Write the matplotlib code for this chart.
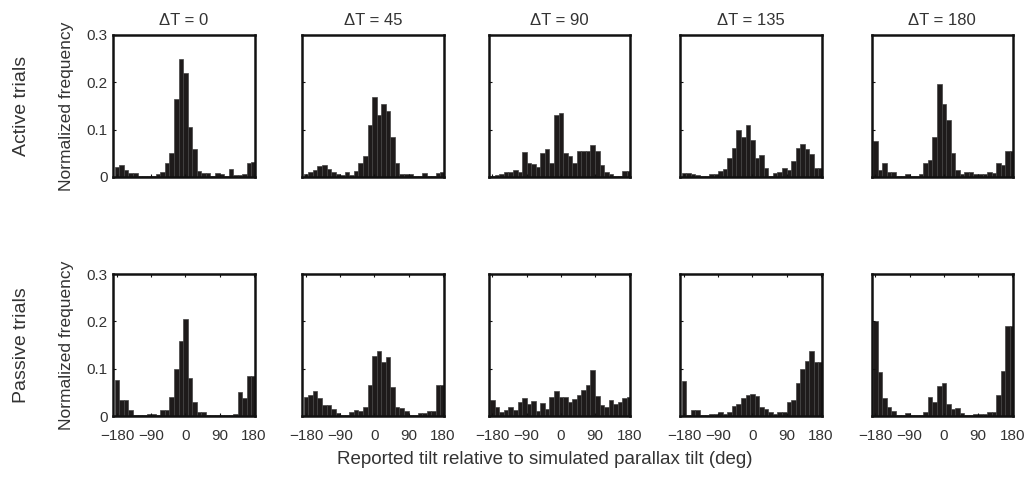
import numpy as np
import matplotlib
matplotlib.use('Agg')
import matplotlib.pyplot as plt

plt.rcParams['font.family'] = ['Liberation Sans', 'DejaVu Sans']

# 12 deg bins centred on -180 ... 180
bin_centers = np.arange(-180, 181, 12)
titles = ['\u0394T = 0', '\u0394T = 45', '\u0394T = 90', '\u0394T = 135', '\u0394T = 180']
row_names = ['Active trials', 'Passive trials']
xticks = [-180, -90, 0, 90, 180]
xtick_labels = ['\u2212180', '\u221290', '0', '90', '180']
yticks = [0, 0.1, 0.2, 0.3]
ytick_labels = ['0', '0.1', '0.2', '0.3']

# active trials
act_0 = [0.022, 0.025, 0.014, 0.009, 0.008, 0.003, 0.003, 0.003, 0.003, 0.006, 0.01,
         0.03, 0.05, 0.165, 0.25, 0.22, 0.105, 0.06, 0.012, 0.008, 0.008, 0.003,
         0.008, 0.006, 0.003, 0.016, 0.005, 0.005, 0.006, 0.03, 0.032]
act_45 = [0.006, 0.01, 0.015, 0.023, 0.025, 0.016, 0.01, 0.007, 0.005, 0.01, 0.004,
          0.012, 0.03, 0.045, 0.11, 0.168, 0.13, 0.155, 0.14, 0.085, 0.03, 0.006,
          0.006, 0.006, 0.003, 0.003, 0.008, 0.003, 0.003, 0.008, 0.01]
act_90 = [0.003, 0.004, 0.007, 0.01, 0.01, 0.015, 0.01, 0.052, 0.03, 0.028, 0.022,
          0.05, 0.06, 0.03, 0.132, 0.135, 0.05, 0.045, 0.03, 0.055, 0.055, 0.055,
          0.068, 0.055, 0.025, 0.01, 0.006, 0.003, 0.003, 0.012, 0.012]
act_135 = [0.009, 0.008, 0.006, 0.004, 0.003, 0.003, 0.006, 0.006, 0.012, 0.017, 0.04,
           0.062, 0.1, 0.085, 0.11, 0.078, 0.04, 0.046, 0.018, 0.003, 0.008, 0.01,
           0.02, 0.015, 0.034, 0.062, 0.07, 0.06, 0.048, 0.02, 0.02]
act_180 = [0.077, 0.015, 0.03, 0.01, 0.01, 0.003, 0.003, 0.006, 0.003, 0.003, 0.006,
           0.03, 0.035, 0.085, 0.197, 0.155, 0.12, 0.05, 0.015, 0.006, 0.01, 0.01,
           0.006, 0.006, 0.006, 0.01, 0.008, 0.03, 0.025, 0.055, 0.055]

# passive trials
pas_0 = [0.077, 0.034, 0.034, 0.013, 0.002, 0.002, 0.002, 0.005, 0.005, 0.002, 0.013,
         0.013, 0.04, 0.1, 0.158, 0.205, 0.08, 0.03, 0.008, 0.008, 0.002, 0.002,
         0.002, 0.002, 0.002, 0.002, 0.005, 0.05, 0.038, 0.085, 0.085]
pas_45 = [0.04, 0.045, 0.053, 0.038, 0.024, 0.024, 0.015, 0.007, 0.003, 0.003, 0.008,
          0.013, 0.01, 0.02, 0.065, 0.126, 0.138, 0.115, 0.124, 0.062, 0.02, 0.016,
          0.01, 0.003, 0.003, 0.007, 0.007, 0.01, 0.01, 0.065, 0.065]
pas_90 = [0.034, 0.02, 0.008, 0.012, 0.02, 0.012, 0.03, 0.038, 0.025, 0.032, 0.01,
          0.028, 0.015, 0.04, 0.052, 0.04, 0.04, 0.03, 0.035, 0.045, 0.055, 0.065,
          0.097, 0.042, 0.023, 0.02, 0.033, 0.025, 0.03, 0.038, 0.04]
pas_135 = [0.075, 0.003, 0.012, 0.012, 0.003, 0.003, 0.005, 0.004, 0.008, 0.004, 0.008,
           0.022, 0.025, 0.038, 0.045, 0.047, 0.043, 0.02, 0.014, 0.008, 0.005, 0.008,
           0.008, 0.03, 0.033, 0.07, 0.1, 0.117, 0.138, 0.115, 0.115]
pas_180 = [0.2, 0.093, 0.037, 0.02, 0.01, 0.003, 0.003, 0.007, 0.003, 0.003, 0.003,
           0.008, 0.04, 0.03, 0.063, 0.07, 0.025, 0.015, 0.017, 0.006, 0.003, 0.003,
           0.005, 0.005, 0.005, 0.008, 0.008, 0.045, 0.095, 0.19, 0.19]

rows = [[act_0, act_45, act_90, act_135, act_180],
        [pas_0, pas_45, pas_90, pas_135, pas_180]]

W, H = 1032, 479
fig = plt.figure(figsize=(W / 100, H / 100), dpi=100)

col_left = [113, 302, 488.5, 680, 871.5]
pw = 141.5
row_top = [35, 274]
ph = 142
txt = '#333333'

for r in range(2):
    for c in range(5):
        x0 = col_left[c]
        y0 = row_top[r]
        ax = fig.add_axes([x0 / W, 1 - (y0 + ph) / H, pw / W, ph / H])
        ax.bar(bin_centers, rows[r][c], width=12, color='#1e1b1b',
               edgecolor='#444444', linewidth=0.5)
        ax.set_xlim(-190.5, 182)
        ax.set_ylim(0, 0.3)
        for s in ax.spines.values():
            s.set_linewidth(1.8)
            s.set_color('#111111')
        ax.set_xticks(xticks)
        ax.set_yticks(yticks)
        ax.tick_params(direction='in', length=2, width=0.8, colors='#111111',
                       labelsize=11, labelcolor=txt, top=(r == 1))
        if r == 1:
            ax.set_xticklabels(xtick_labels)
            ax.tick_params(axis='x', pad=9)
        else:
            ax.set_xticklabels([])
            ax.set_title(titles[c], fontsize=12, color=txt, pad=7)
        if c == 0:
            ax.set_yticklabels(ytick_labels)
            ax.tick_params(axis='y', pad=4)
        else:
            ax.set_yticklabels([])

for r in range(2):
    yc = 1 - (row_top[r] + ph / 2) / H
    fig.text(22 / W, yc, row_names[r], rotation=90, ha='center', va='center',
             fontsize=14, color=txt)
    fig.text(66 / W, yc, 'Normalized frequency', rotation=90, ha='center',
             va='center', fontsize=12.5, color=txt)

fig.text(545 / W, 1 - 459 / H, 'Reported tilt relative to simulated parallax tilt (deg)',
         ha='center', va='center', fontsize=13.5, color=txt)

fig.savefig('out.png', dpi=100)
